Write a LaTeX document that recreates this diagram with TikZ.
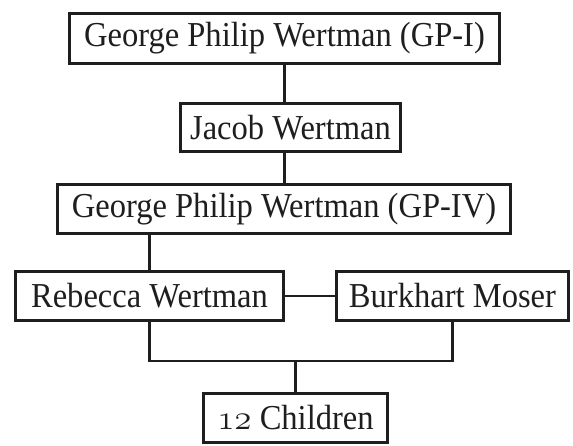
\RequirePackage{fix-cm}
\documentclass[tikz,border=0pt]{standalone}
\usepackage{fontspec}
\setmainfont{Liberation Serif}[FakeStretch=0.93]
\definecolor{ink}{HTML}{1E1E1E}
\begin{document}
\begin{tikzpicture}[x=1pt,y=-1pt,
  person/.style={draw=ink, line width=2.8pt, inner sep=0pt, text=ink,
    font=\fontsize{35}{38}\selectfont, minimum height=49pt},
  link/.style={draw=ink, line width=2.6pt}]
\useasboundingbox (0,0) rectangle (573,445);
\node[person, minimum width=430pt, minimum height=50pt] (b1) at (284.5,38.5) {George Philip Wertman (GP-I)};
\node[person, minimum width=220pt, minimum height=48pt] (b2) at (290.5,127.5) {Jacob Wertman};
\node[person, minimum width=453pt] (b3) at (284,209) {George Philip Wertman (GP-IV)};
\node[person, minimum width=268pt] (b4) at (149.5,296) {Rebecca Wertman};
\node[person, minimum width=232pt] (b5) at (452.5,296) {Burkhart Moser};
\node[person, minimum width=184pt] (b6) at (295.5,418) {$\mathnormal{12}$ Children};
\coordinate (bar) at (0,361);
\path[link] (b1.south) -- (b1.south |- b2.north);
\path[link] (b1.south |- b2.south) -- (b1.south |- b3.north);
\path[link] (b4.north |- b3.south) -- (b4.north);
\path[link] (b4.east) -- (b5.west);
\path[link] (b4.south) -- (b4.south |- bar) -- (b5.south |- bar) -- (b5.south);
\path[link] (b6.north |- bar) -- (b6.north);
\end{tikzpicture}
\end{document}
